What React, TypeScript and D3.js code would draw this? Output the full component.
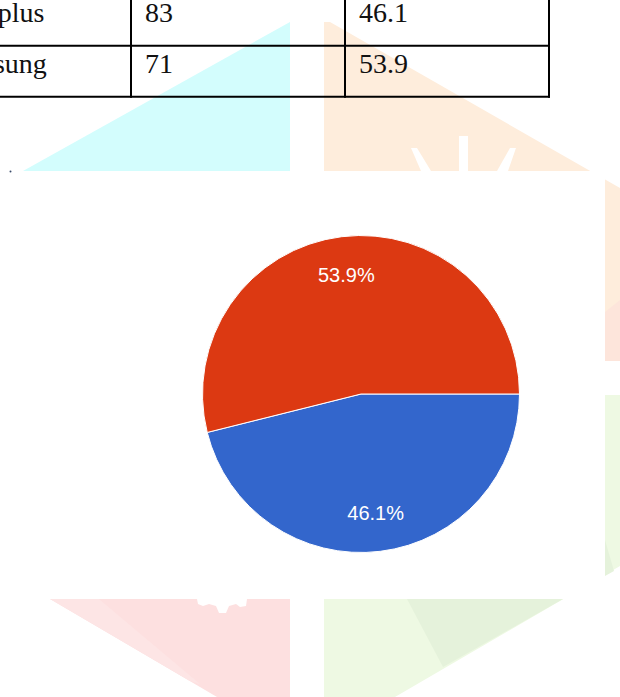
import React, { useRef, useEffect } from 'react';
import * as d3 from 'd3';

// table rows (first column is cut off at the left edge of the page)
const brands = ['plus', 'sung'];
const counts = [83, 71];
const percents = [46.1, 53.9];

// pie slices, in drawing order (clockwise from 3 o'clock)
const sliceValues = [46.1, 53.9];
const sliceColors = ['#3366cc', '#dc3912'];

const W = 620;
const H = 697;

type Pt = [number, number];

// faint hexagon logo behind the chart picture
const watermark: { pts: Pt[]; fill: string }[] = [
  { pts: [[23, 171], [290, 22], [290, 171]], fill: '#d3fdfd' },
  { pts: [[324, 22], [330, 22], [620, 188], [620, 361], [324, 361]], fill: '#feeddc' },
  { pts: [[605, 312], [620, 300], [620, 361], [605, 361]], fill: '#fde5db' },
  { pts: [[324, 395], [620, 395], [620, 566], [395, 697], [324, 697]], fill: '#eef9e3' },
  { pts: [[407, 599], [563, 599], [443, 667]], fill: '#e5f2db' },
  { pts: [[605, 540], [614, 571], [605, 576]], fill: '#e5f2db' },
  { pts: [[50, 599], [290, 599], [290, 697], [217, 697]], fill: '#fde0e0' },
  { pts: [[50, 599], [99, 599], [200, 684], [190, 681]], fill: '#fde5e5' },
  // white pieces of the logo glyph
  { pts: [[411, 148], [417, 148], [431, 171], [421, 171]], fill: '#ffffff' },
  { pts: [[459, 136], [468, 136], [468, 171], [459, 171]], fill: '#ffffff' },
  { pts: [[510, 148], [516, 148], [508, 171], [497, 171]], fill: '#ffffff' },
  {
    pts: [[197, 599], [247, 599], [246, 606], [240, 607], [236, 604], [229, 606], [226, 613],
      [219, 613], [216, 606], [209, 604], [203, 606], [198, 604]],
    fill: '#ffffff',
  },
];

function App() {
  const svgRef = useRef<SVGSVGElement>(null);

  useEffect(() => {
    const svg = d3.select(svgRef.current);
    svg.selectAll('*').remove();

    // background logo
    svg.append('g').selectAll('polygon').data(watermark)
      .enter().append('polygon')
      .attr('points', d => d.pts.map(p => p.join(',')).join(' '))
      .attr('fill', d => d.fill);

    // white chart picture pasted on top
    svg.append('rect')
      .attr('x', 0).attr('y', 171)
      .attr('width', 605).attr('height', 428)
      .attr('fill', '#ffffff');
    svg.append('circle')
      .attr('cx', 10.5).attr('cy', 171.5).attr('r', 1)
      .attr('fill', '#3a4a6a');

    // table
    const colX = [131, 345, 549];
    const rowY = d3.scalePoint<number>().domain([0, 1, 2]).range([-5.3, 96.7]);
    const table = svg.append('g')
      .attr('font-family', '"Liberation Serif", "Times New Roman", serif')
      .attr('font-size', 28)
      .attr('fill', '#111');

    table.selectAll('line.h').data([1, 2])
      .enter().append('line')
      .attr('x1', -2).attr('x2', colX[2] + 1)
      .attr('y1', d => rowY(d)!).attr('y2', d => rowY(d)!)
      .attr('stroke', '#000').attr('stroke-width', 2);
    table.selectAll('line.v').data(colX)
      .enter().append('line')
      .attr('x1', d => d).attr('x2', d => d)
      .attr('y1', -6).attr('y2', rowY(2)! + 1)
      .attr('stroke', '#000').attr('stroke-width', 2);

    const baseline = (i: number) => rowY(i + 1)! - 24;
    table.selectAll('text.brand').data(brands)
      .enter().append('text')
      .attr('x', (d, i) => (i === 0 ? 44.5 : 46.8))
      .attr('y', (d, i) => baseline(i))
      .attr('text-anchor', 'end')
      .text(d => d);
    table.selectAll('text.count').data(counts)
      .enter().append('text')
      .attr('x', colX[0] + 14)
      .attr('y', (d, i) => baseline(i))
      .text(d => d);
    table.selectAll('text.pct').data(percents)
      .enter().append('text')
      .attr('x', colX[1] + 14)
      .attr('y', (d, i) => baseline(i))
      .text(d => d.toFixed(1));

    // pie
    const cx = 361;
    const cy = 394;
    const radius = 158.5;
    const pie = d3.pie<number>()
      .sort(null)
      .startAngle(Math.PI / 2)
      .endAngle(Math.PI / 2 + 2 * Math.PI);
    const arcs = pie(sliceValues);
    const arc = d3.arc<d3.PieArcDatum<number>>().innerRadius(0).outerRadius(radius);
    const labelArc = d3.arc<d3.PieArcDatum<number>>().innerRadius(120).outerRadius(120);

    const g = svg.append('g').attr('transform', `translate(${cx},${cy})`);
    g.selectAll('path').data(arcs)
      .enter().append('path')
      .attr('d', arc)
      .attr('fill', (d, i) => sliceColors[i])
      .attr('stroke', '#ffffff')
      .attr('stroke-width', 1);

    g.selectAll('text').data(arcs)
      .enter().append('text')
      .attr('transform', d => `translate(${labelArc.centroid(d)})`)
      .attr('text-anchor', 'middle')
      .attr('dy', '0.35em')
      .attr('font-family', '"Liberation Sans", Arial, sans-serif')
      .attr('font-size', 20)
      .attr('fill', '#ffffff')
      .text(d => `${d.data.toFixed(1)}%`);
  }, []);

  return (
    <div style={{ position: 'absolute', left: 0, top: 0 }}>
      <svg ref={svgRef} width={W} height={H} style={{ display: 'block' }} />
    </div>
  );
}

export default App;
